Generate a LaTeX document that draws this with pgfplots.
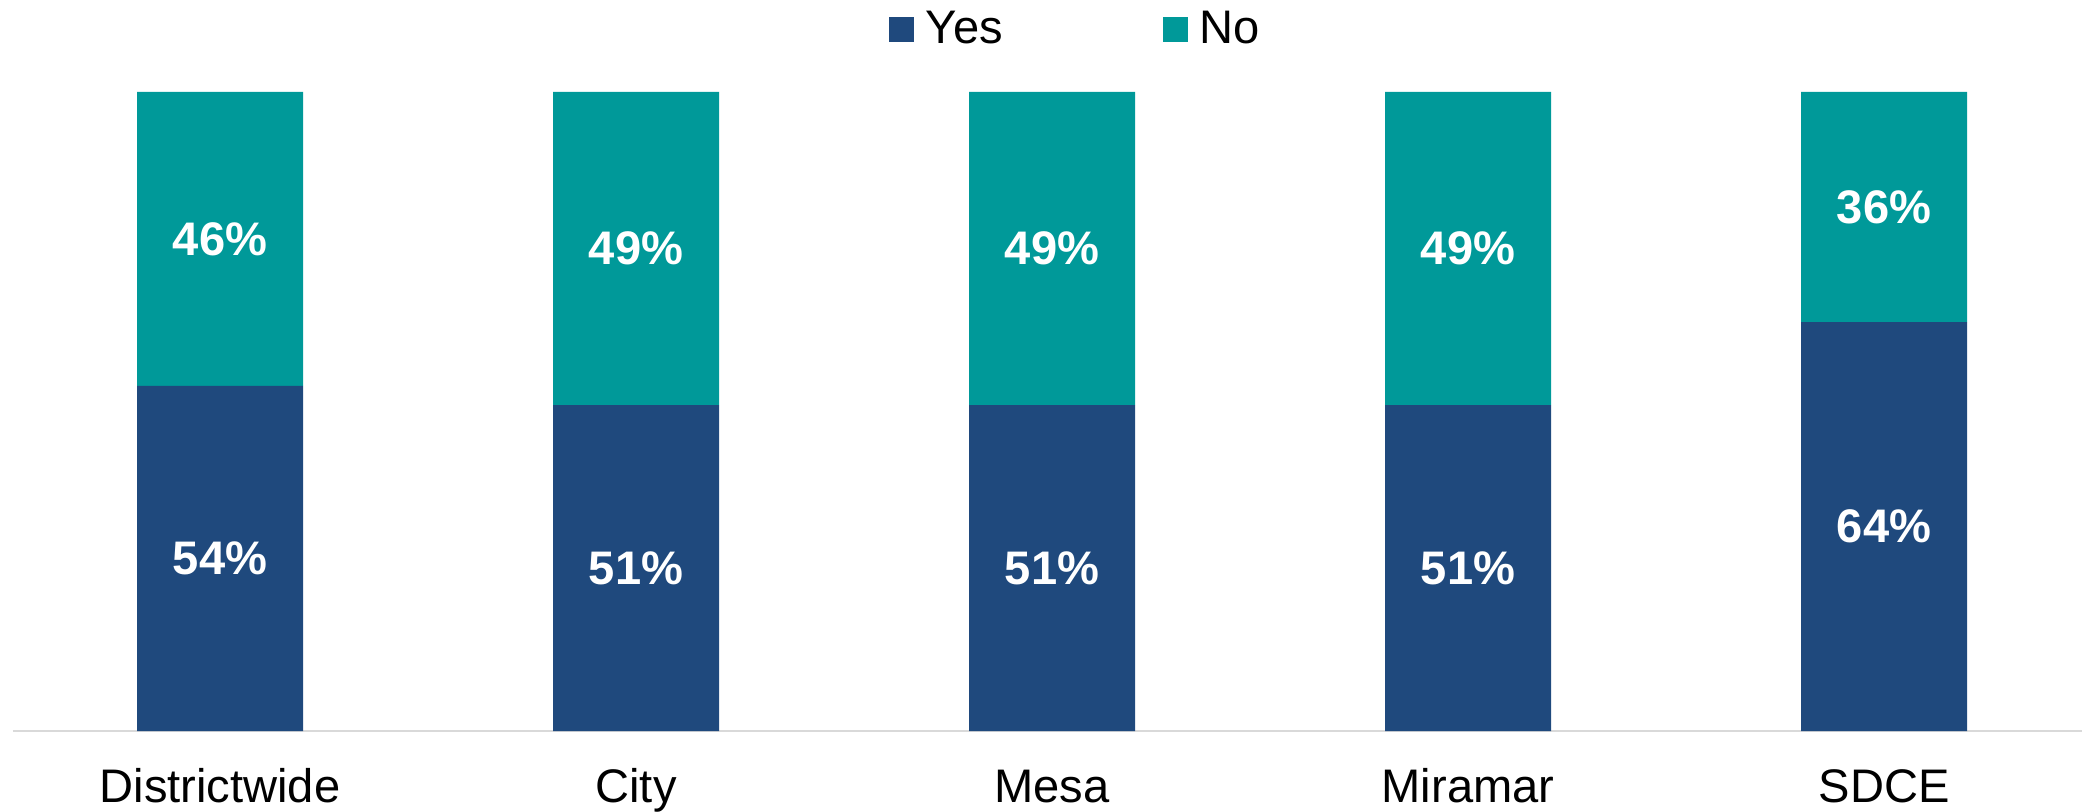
\documentclass[border=0pt]{standalone}
\usepackage{fontspec}
\setmainfont{Liberation Sans}
\usepackage{pgfplots}
\pgfplotsset{compat=1.18}
\definecolor{yesblue}{HTML}{1F497D}
\definecolor{noteal}{HTML}{009999}
\definecolor{axisgray}{HTML}{D9D9D9}

\pgfplotstableread{
x  y   lab
0  54  54
1  51  51
2  51  51
3  51  51
4  64  64
}\yesdata
\pgfplotstableread{
x  y   lab
0  46  46
1  49  49
2  49  49
3  49  49
4  36  36
}\nodata

\begin{document}
\begin{tikzpicture}
\begin{axis}[
    at={(0,0)}, anchor=south west,
    scale only axis,
    width=20.69cm, height=6.39cm,
    ybar stacked,
    bar width=1.66cm,
    xmin=-0.4976, xmax=4.476,
    ymin=0, ymax=100,
    enlargelimits=false,
    clip=false,
    axis y line=none,
    axis x line=bottom,
    x axis line style={-, draw=axisgray, line width=0.6pt},
    xtick={0,1,2,3,4},
    xticklabels={Districtwide, City, Mesa, Miramar, SDCE},
    major tick length=0pt,
    xticklabel style={anchor=base, yshift=-0.71cm},
    font=\fontsize{13.4}{16}\selectfont,
    ticklabel style={font=\fontsize{13.4}{16}\selectfont},
    point meta=explicit,
    nodes near coords={\pgfmathprintnumber[assume math mode=true]{\pgfplotspointmeta}\%},
    % stacked bars already put the labels in the middle of each segment
    every node near coord/.append style={font=\fontsize{13.4}{16}\selectfont\bfseries,
        text=white, anchor=center},
    legend columns=2,
    legend style={draw=none, fill=none, inner sep=0pt,
        at={(0.5147,1)}, anchor=center, yshift=0.62cm,
        font=\fontsize{13.4}{16}\selectfont,
        /tikz/every even column/.append style={column sep=1.53cm}},
]
\addplot[fill=yesblue, draw=none,
    legend image code/.code={\fill[yesblue] (0cm,-0.125cm) rectangle (0.25cm,0.125cm);
        \path (0.30cm,0cm);}]
    table[x=x, y=y, meta=lab] {\yesdata};
\addplot[fill=noteal, draw=none,
    legend image code/.code={\fill[noteal] (0cm,-0.125cm) rectangle (0.25cm,0.125cm);
        \path (0.30cm,0cm);}]
    table[x=x, y=y, meta=lab] {\nodata};
\legend{Yes, No}
\end{axis}
\pgfresetboundingbox
\path[use as bounding box] (-0.13cm,-0.80cm) rectangle (20.69cm,7.31cm);
\end{tikzpicture}
\end{document}
